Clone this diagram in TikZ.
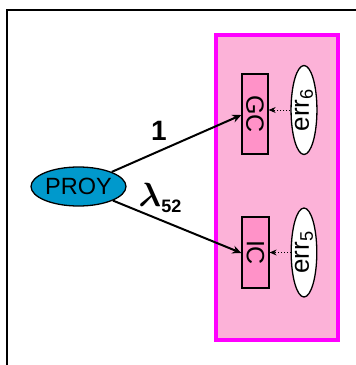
\documentclass[tikz,border=0pt]{standalone}
\usepackage{fontspec}
\usepackage{amsmath}
\setmainfont{Liberation Sans}
\usetikzlibrary{shapes.geometric,arrows.meta}
\definecolor{boxpink}{RGB}{252,178,216}
\definecolor{varpink}{RGB}{255,146,200}
\definecolor{proyblue}{RGB}{0,153,204}
\definecolor{boxmagenta}{RGB}{255,0,255}
\tikzset{
  frameline/.style={line width=2pt},
  groupbox/.style={draw=boxmagenta, fill=boxpink, line width=4pt},
  obsvar/.style={draw, fill=varpink, line width=1.3pt, rectangle, inner sep=0pt, font=\fontsize{25}{25}\selectfont},
  errvar/.style={draw, fill=white, line width=1.3pt, ellipse, inner sep=0pt, minimum width=22pt, minimum height=89pt, font=\fontsize{26}{26}\selectfont},
  latvar/.style={draw, fill=proyblue, line width=1.3pt, ellipse, inner sep=0pt, minimum width=95pt, minimum height=39pt, font=\fontsize{23.5}{23.5}\selectfont},
  loadarrow/.style={line width=2pt, -{Stealth[length=9pt,width=8pt]}},
  errarrow/.style={line width=1pt, dotted, -{Stealth[length=7pt,width=6pt]}},
  lbl/.style={font=\fontsize{28}{28}\selectfont}
}
\begin{document}
\begin{tikzpicture}[x=1pt,y=-1pt]
\useasboundingbox (0,0) rectangle (356,365);
\draw[frameline] (7,366) -- (7,10) -- (357,10);
\draw[groupbox] (216,35) rectangle (338,340);
\node[obsvar, minimum width=26pt, minimum height=80pt] (GC) at (255,114) {\rotatebox{-90}{GC}};
\node[obsvar, minimum width=27pt, minimum height=71pt] (IC) at (255.5,252.5) {\rotatebox{-90}{IC}};
\node[errvar] (E6) at (304,110) {\rotatebox{90}{err\textsubscript{6}}};
\node[errvar] (E5) at (304,252.5) {\rotatebox{90}{err\textsubscript{5}}};
\node[latvar] (P) at (78.5,186.5) {PROY};
\draw[loadarrow] (P) -- (GC.west |- 0,115);
\draw[loadarrow] (P) -- (IC.west |- 0,253);
\draw[errarrow] (E6.west) -- (GC.east |- E6.west);
\draw[errarrow] (E5.west) -- (IC.east |- E5.west);
\node[lbl] (L1) at (159,131) {\bfseries 1};
\node[inner sep=0pt] (L2) at (160,198) {\scalebox{1.35}{\fontsize{24}{24}\selectfont$\boldsymbol{\lambda}$}\raisebox{-6pt}{\fontsize{18}{18}\selectfont\bfseries 52}};
\end{tikzpicture}
\end{document}
